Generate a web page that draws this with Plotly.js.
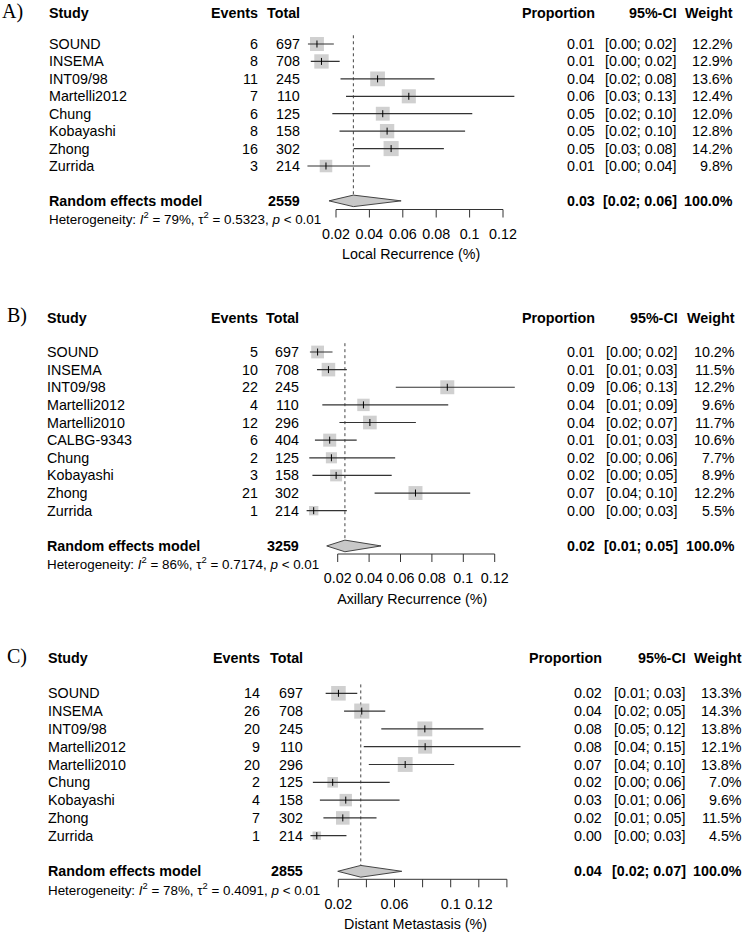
<!DOCTYPE html>
<html><head><meta charset="utf-8">
<script src="https://cdn.plot.ly/plotly-3.0.1.min.js"></script>
<style>html,body{margin:0;padding:0;background:#fff}</style>
</head><body><div id="chart" style="width:745px;height:934px"></div>
<script>
// ---------- Panel A: Local recurrence ----------
const studiesA = ["SOUND","INSEMA","INT09/98","Martelli2012","Chung","Kobayashi","Zhong","Zurrida"];
const eventsA  = [6,8,11,7,6,8,16,3];
const totalsA  = [697,708,245,110,125,158,302,214];
const propA    = [0.0086,0.0113,0.0449,0.0636,0.048,0.0506,0.053,0.014];
const lowerA   = [0.0032,0.0049,0.0227,0.026,0.0178,0.0221,0.0306,0.0029];
const upperA   = [0.0187,0.0222,0.079,0.1268,0.1016,0.0973,0.0846,0.0404];
const weightA  = [12.2,12.9,13.6,12.4,12.0,12.8,14.2,9.8];
const pooledA  = [0.0304,0.0158,0.059];   // estimate, lower, upper
const i2A = 79, tau2A = "0.5323";
const ticksA = [0.02,0.04,0.06,0.08,0.1,0.12];
const labelTicksA = [0.02,0.04,0.06,0.08,0.1,0.12];
const tickTextA = ["0.02","0.04","0.06","0.08","0.1","0.12"];
const axisTitleA = "Local Recurrence (%)";

// ---------- Panel B: Axillary recurrence ----------
const studiesB = ["SOUND","INSEMA","INT09/98","Martelli2012","Martelli2010","CALBG-9343","Chung","Kobayashi","Zhong","Zurrida"];
const eventsB  = [5,10,22,4,12,6,2,3,21,1];
const totalsB  = [697,708,245,110,296,404,125,158,302,214];
const propB    = [0.0072,0.0141,0.0898,0.0364,0.0405,0.0149,0.016,0.019,0.06954,0.0047];
const lowerB   = [0.0023,0.0068,0.057,0.0102,0.0211,0.0055,0.0019,0.0039,0.0435,0.0001];
const upperB   = [0.0167,0.0258,0.1328,0.0904,0.0698,0.0321,0.0566,0.0544,0.1044,0.0258];
const weightB  = [10.2,11.5,12.2,9.6,11.7,10.6,7.7,8.9,12.2,5.5];
const pooledB  = [0.0246,0.013,0.0476];
const i2B = 86, tau2B = "0.7174";
const ticksB = [0.02,0.04,0.06,0.08,0.1,0.12];
const labelTicksB = [0.02,0.04,0.06,0.08,0.1,0.12];
const tickTextB = ["0.02","0.04","0.06","0.08","0.1","0.12"];
const axisTitleB = "Axillary Recurrence (%)";

// ---------- Panel C: Distant metastasis ----------
const studiesC = ["SOUND","INSEMA","INT09/98","Martelli2012","Martelli2010","Chung","Kobayashi","Zhong","Zurrida"];
const eventsC  = [14,26,20,9,20,2,4,7,1];
const totalsC  = [697,708,245,110,296,125,158,302,214];
const propC    = [0.0201,0.0367,0.0816,0.0818,0.0676,0.016,0.0253,0.0232,0.0047];
const lowerC   = [0.011,0.0241,0.0506,0.0381,0.0417,0.0019,0.0069,0.0094,0.0001];
const upperC   = [0.0335,0.0534,0.1233,0.1497,0.1025,0.0566,0.0636,0.0472,0.0258];
const weightC  = [13.3,14.3,13.8,12.1,13.8,7.0,9.6,11.5,4.5];
const pooledC  = [0.036,0.0196,0.0652];
const i2C = 78, tau2C = "0.4091";
const ticksC = [0.02,0.04,0.06,0.08,0.1,0.12,0.14];
const labelTicksC = [0.02,0.06,0.1,0.12];
const tickTextC = ["0.02","0.06","0.1","0.12"];
const axisTitleC = "Distant Metastasis (%)";

// ---------- build ----------
const W = 745, H = 934;
const SANS = "Liberation Sans, Arial, Helvetica, sans-serif";
const SERIF = "Liberation Serif, Times New Roman, serif";
const FS = 14.3;

const panels = [
  {label:"A)", studies:studiesA, events:eventsA, totals:totalsA, prop:propA, lo:lowerA, hi:upperA, w:weightA,
   pooled:pooledA, i2:i2A, tau2:tau2A, ticks:ticksA, labelTicks:labelTicksA, tickText:tickTextA, title:axisTitleA,
   g:{labelX:1.5, labelPx:12, headerPx:13, row0:44, step:17.43, axisPx:209.5, topPx:24,
      zeroPx:302.6, ppu:1670, xmax:0.13, cols:[49.3,258.3,300,595,676.7,733.3]}},
  {label:"B)", studies:studiesB, events:eventsB, totals:totalsB, prop:propB, lo:lowerB, hi:upperB, w:weightB,
   pooled:pooledB, i2:i2B, tau2:tau2B, ticks:ticksB, labelTicks:labelTicksB, tickText:tickTextB, title:axisTitleB,
   g:{labelX:7.3, labelPx:315, headerPx:318, row0:352, step:17.63, axisPx:554, topPx:330,
      zeroPx:306.3, ppu:1570, xmax:0.135, cols:[46.7,257.7,299,595,678.3,735]}},
  {label:"C)", studies:studiesC, events:eventsC, totals:totalsC, prop:propC, lo:lowerC, hi:upperC, w:weightC,
   pooled:pooledC, i2:i2C, tau2:tau2C, ticks:ticksC, labelTicks:labelTicksC, tickText:tickTextC, title:axisTitleC,
   g:{labelX:7.3, labelPx:656, headerPx:658, row0:693.3, step:17.8, axisPx:879.3, topPx:672,
      zeroPx:310.2, ppu:1405, xmax:0.15, cols:[47.7,260,302.7,601.7,685.7,742.3]}}
];

const data = [], shapes = [], annotations = [];
const layout = {width:W, height:H, margin:{l:0,r:0,t:0,b:0}, paper_bgcolor:"#fff", plot_bgcolor:"rgba(0,0,0,0)",
  showlegend:false, font:{family:SANS, size:FS, color:"#000"}};

const f2 = v => v.toFixed(2);
const TICKLEN = 8;

panels.forEach((p, k) => {
  const s = k === 0 ? "" : String(k + 1);
  const xa = "x" + s, ya = "y" + s;
  const g = p.g;
  const n = p.studies.length;
  const rows = p.studies.map((_, i) => i);
  const reRow = n + 1, hetRow = n + 2;
  const pxToRow = px => (px - g.row0) / g.step;
  const rowToPaper = r => 1 - (g.row0 + r * g.step) / H;
  const domH = g.axisPx - g.topPx;

  layout["xaxis" + s] = {
    domain:[g.zeroPx / W, (g.zeroPx + g.xmax * g.ppu) / W], range:[0, g.xmax], anchor:ya,
    showgrid:false, zeroline:false, showline:false, fixedrange:true,
    tickmode:"array", tickvals:p.labelTicks, ticktext:p.tickText, ticks:"",
    tickfont:{family:SANS, size:FS, color:"#000"}, ticklabelstandoff:14,
    title:{text:p.title, font:{family:SANS, size:FS, color:"#000"}, standoff:8}
  };
  layout["yaxis" + s] = {
    domain:[1 - g.axisPx / H, 1 - g.topPx / H], range:[pxToRow(g.axisPx), pxToRow(g.topPx)],
    anchor:xa, visible:false, fixedrange:true
  };

  // reference (pooled) dotted line
  shapes.push({type:"line", xref:xa, yref:ya, x0:p.pooled[0], x1:p.pooled[0], y0:-0.5, y1:reRow,
    line:{color:"#444", width:1, dash:"dot"}, layer:"below"});
  // axis line between first and last tick, with downward tick marks
  shapes.push({type:"line", xref:xa, yref:ya + " domain", x0:p.ticks[0], x1:p.ticks[p.ticks.length - 1], y0:0, y1:0,
    line:{color:"#333", width:1}});
  p.ticks.forEach(t => shapes.push({type:"line", xref:xa, yref:ya + " domain", x0:t, x1:t, y0:0, y1:-TICKLEN / domH,
    line:{color:"#333", width:1}}));

  // study boxes
  data.push({type:"scatter", mode:"markers", x:p.prop, y:rows, xaxis:xa, yaxis:ya, cliponaxis:false, hoverinfo:"skip",
    marker:{symbol:"square", size:p.w.map(w => 4 * Math.sqrt(w)), color:"#bcbcbc", line:{width:0}}});
  // confidence intervals
  const cx = [], cy = [];
  rows.forEach(i => { cx.push(p.lo[i], p.hi[i], null); cy.push(i, i, null); });
  data.push({type:"scatter", mode:"lines", x:cx, y:cy, xaxis:xa, yaxis:ya, hoverinfo:"skip",
    line:{color:"#333", width:1.2}});
  // point estimate tick
  data.push({type:"scatter", mode:"markers", x:p.prop, y:rows, xaxis:xa, yaxis:ya, cliponaxis:false, hoverinfo:"skip",
    marker:{symbol:"line-ns-open", size:5, color:"#000", line:{color:"#000", width:1}}});
  // pooled diamond
  const [pe, pl, ph] = p.pooled;
  data.push({type:"scatter", mode:"lines", x:[pl, pe, ph, pe, pl], y:[reRow, reRow - 0.33, reRow, reRow + 0.33, reRow],
    xaxis:xa, yaxis:ya, fill:"toself", fillcolor:"#c8c8c8", line:{color:"#444", width:1}, hoverinfo:"skip"});

  // text (paper coordinates, rows mapped to pixels)
  const annPaper = (text, xpx, ypaper, anchor, font) => annotations.push({
    text:text, xref:"paper", x:xpx / W, yref:"paper", y:ypaper, xanchor:anchor, yanchor:"middle",
    showarrow:false, borderpad:0, borderwidth:0, font:font || {family:SANS, size:FS, color:"#000"}});
  const ann = (text, xpx, row, anchor, font) => annPaper(text, xpx, rowToPaper(row), anchor, font);
  const c = g.cols;
  annPaper(p.label, g.labelX, 1 - g.labelPx / H, "left", {family:SERIF, size:20, color:"#000"});
  const hr = pxToRow(g.headerPx);
  ann("<b>Study</b>", c[0], hr, "left");
  ann("<b>Events</b>", c[1], hr, "right");
  ann("<b>Total</b>", c[2], hr, "right");
  ann("<b>Proportion</b>", c[3], hr, "right");
  ann("<b>95%-CI</b>", c[4], hr, "right");
  ann("<b>Weight</b>", c[5], hr, "right");
  rows.forEach(i => {
    ann(p.studies[i], c[0], i, "left");
    ann(String(p.events[i]), c[1], i, "right");
    ann(String(p.totals[i]), c[2], i, "right");
    ann(f2(p.prop[i]), c[3], i, "right");
    ann("[" + f2(p.lo[i]) + "; " + f2(p.hi[i]) + "]", c[4], i, "right");
    ann(p.w[i].toFixed(1) + "%", c[5], i, "right");
  });
  const total = p.totals.reduce((a, b) => a + b, 0);
  const wsum = p.w.reduce((a, b) => a + b, 0);
  ann("<b>Random effects model</b>", c[0], reRow, "left");
  ann("<b>" + total + "</b>", c[2], reRow, "right");
  ann("<b>" + f2(pe) + "</b>", c[3], reRow, "right");
  ann("<b>[" + f2(pl) + "; " + f2(ph) + "]</b>", c[4], reRow, "right");
  ann("<b>" + (Math.round(wsum / 10) * 10).toFixed(1) + "%</b>", c[5], reRow, "right");
  ann("Heterogeneity: <i>I</i><sup>2</sup> = " + p.i2 + "%, τ<sup>2</sup> = " + p.tau2 + ", <i>p</i> &lt; 0.01",
    c[0], hetRow, "left", {family:SANS, size:13.4, color:"#000"});
});

layout.shapes = shapes;
layout.annotations = annotations;
Plotly.newPlot("chart", data, layout, {staticPlot:true, displayModeBar:false});
</script></body></html>
